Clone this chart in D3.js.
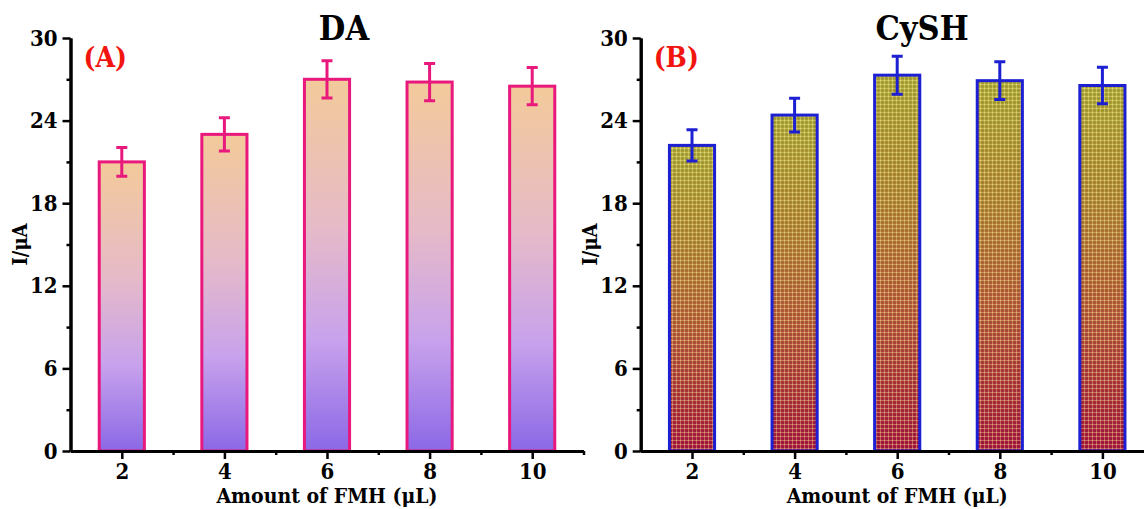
<!DOCTYPE html>
<html>
<head>
<meta charset="utf-8">
<script src="https://cdn.jsdelivr.net/npm/d3@7"></script>
<style>
  body { margin: 0; background: #fff; }
  svg text { font-family: "DejaVu Serif Condensed", "DejaVu Serif", serif; font-stretch: condensed; font-weight: bold; }
</style>
</head>
<body>
<div id="chart"></div>
<script>

// amount of FMH (uL) on the x axis
const doses = [2, 4, 6, 8, 10];

// panel A - DA
const daCurrent = [21.0, 23.0, 27.0, 26.8, 26.5];
const daError = [1.05, 1.2, 1.35, 1.35, 1.35];

// panel B - CySH
const cyshCurrent = [22.2, 24.4, 27.3, 26.9, 26.55];
const cyshError = [1.13, 1.23, 1.38, 1.37, 1.33];

const yTicks = [0, 6, 12, 18, 24, 30];
const yMinor = [3, 9, 15, 21, 27];
const xMinor = [3, 5, 7, 9, 11];


var width = 1144;
var height = 509;

var svg = d3.select("#chart").append("svg")
    .attr("width", width)
    .attr("height", height)

var defs = svg.append("defs")

// bar fills
var gradA = defs.append("linearGradient")
    .attr("id", "gradA")
    .attr("x1", 0).attr("y1", 0).attr("x2", 0).attr("y2", 1)
gradA.selectAll("stop")
    .data([["0%", "#f3ca9a"], ["40%", "#e6bac8"], ["70%", "#c8a2ec"], ["100%", "#8b68e6"]])
    .enter().append("stop")
    .attr("offset", d => d[0])
    .attr("stop-color", d => d[1])

var gradB = defs.append("linearGradient")
    .attr("id", "gradB")
    .attr("x1", 0).attr("y1", 0).attr("x2", 0).attr("y2", 1)
gradB.selectAll("stop")
    .data([["0%", "#aaa434"], ["30%", "#ae8432"], ["60%", "#b45838"], ["100%", "#a6143e"]])
    .enter().append("stop")
    .attr("offset", d => d[0])
    .attr("stop-color", d => d[1])

// fine grid on panel B bars
var pat = defs.append("pattern")
    .attr("id", "gridB")
    .attr("width", 4).attr("height", 4)
    .attr("patternUnits", "userSpaceOnUse")
pat.append("path")
    .attr("d", "M0 0.5H4M0.5 0V4")
    .attr("stroke", "#fff8a0")
    .attr("stroke-opacity", 0.35)
    .attr("stroke-width", 1)
pat.append("path")
    .attr("d", "M0 2.5H4M2.5 0V4")
    .attr("stroke", "#000")
    .attr("stroke-opacity", 0.05)
    .attr("stroke-width", 1)


function drawPanel(opts) {

    var x = d3.scaleLinear()
        .domain([1, 11])
        .range([opts.left, opts.left + 513])

    var y = d3.scaleLinear()
        .domain([0, 30])
        .range([451, 38])

    var g = svg.append("g")

    var barW = (x(1.88) - x(1))

    var bars = g.selectAll(".bar")
        .data(doses.map((d, i) => ({ dose: d, value: opts.values[i], err: opts.errors[i] })))
        .enter()

    bars.append("rect")
        .attr("x", d => x(d.dose) - barW / 2)
        .attr("y", d => y(d.value))
        .attr("width", barW)
        .attr("height", d => y(0) - y(d.value))
        .attr("fill", "url(#" + opts.grad + ")")

    if (opts.pattern) {
        bars.append("rect")
            .attr("x", d => x(d.dose) - barW / 2)
            .attr("y", d => y(d.value))
            .attr("width", barW)
            .attr("height", d => y(0) - y(d.value))
            .attr("fill", "url(#" + opts.pattern + ")")
    }

    bars.append("rect")
        .attr("x", d => x(d.dose) - barW / 2)
        .attr("y", d => y(d.value))
        .attr("width", barW)
        .attr("height", d => y(0) - y(d.value))
        .attr("fill", "none")
        .attr("stroke", opts.edge)
        .attr("stroke-width", 3)

    // error bars
    var capW = 5.5
    bars.append("path")
        .attr("d", d => {
            var cx = x(d.dose), t = y(d.value + d.err), b = y(d.value - d.err)
            return "M" + cx + "," + t + "V" + b +
                "M" + (cx - capW) + "," + t + "H" + (cx + capW) +
                "M" + (cx - capW) + "," + b + "H" + (cx + capW)
        })
        .attr("fill", "none")
        .attr("stroke", opts.edge)
        .attr("stroke-width", 3)

    // axes
    var xAxis = g.append("g")
        .attr("transform", "translate(0," + y(0) + ")")
        .call(d3.axisBottom(x).tickValues(doses).tickSize(8).tickSizeOuter(0).tickPadding(4))
    xAxis.append("g")
        .call(d3.axisBottom(x).tickValues(xMinor).tickSize(4).tickSizeOuter(0).tickFormat(""))

    var yAxis = g.append("g")
        .attr("transform", "translate(" + x(1) + ",0)")
        .call(d3.axisLeft(y).tickValues(yTicks).tickSize(8).tickSizeOuter(0).tickPadding(5))
    yAxis.append("g")
        .call(d3.axisLeft(y).tickValues(yMinor).tickSize(4).tickSizeOuter(0).tickFormat(""))

    g.selectAll(".domain").attr("stroke", "#000").attr("stroke-width", 3)
    g.selectAll(".tick line").attr("stroke", "#000").attr("stroke-width", 2.5)
    g.selectAll(".tick text")
        .attr("fill", "#000")
        .style("font-size", "22px")

    // labels
    g.append("text")
        .attr("x", (x(1) + x(11)) / 2)
        .attr("y", 503)
        .attr("text-anchor", "middle")
        .style("font-size", "21px")
        .text("Amount of FMH (μL)")

    g.append("text")
        .attr("transform", "translate(" + (x(1) - 44) + "," + ((y(0) + y(30)) / 2) + ") rotate(-90)")
        .attr("text-anchor", "middle")
        .style("font-size", "20px")
        .text("I/μA")

    g.append("text")
        .attr("x", opts.titleX)
        .attr("y", 40)
        .attr("text-anchor", "middle")
        .style("font-size", "34px")
        .text(opts.title)

    g.append("text")
        .attr("x", x(1) + 13)
        .attr("y", 67)
        .attr("fill", "#f2140f")
        .style("font-size", "28px")
        .text(opts.tag)
}


drawPanel({ left: 70.5, values: daCurrent, errors: daError, grad: "gradA", edge: "#e8187c", title: "DA", titleX: 344, tag: "(A)" })
drawPanel({ left: 640.7, values: cyshCurrent, errors: cyshError, grad: "gradB", pattern: "gridB", edge: "#1d1fd2", title: "CySH", titleX: 922, tag: "(B)" })

</script>
</body>
</html>
